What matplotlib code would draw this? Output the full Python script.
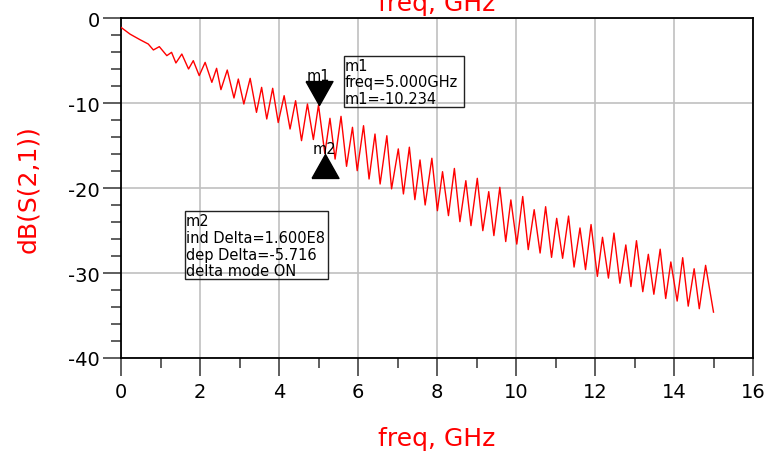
import matplotlib
matplotlib.use('Agg')
import matplotlib.pyplot as plt
from matplotlib.patches import Rectangle
from matplotlib.ticker import MultipleLocator
from matplotlib.transforms import ScaledTranslation

plt.rcParams.update({
    'font.family': 'DejaVu Sans',
    'font.size': 14,
    'axes.unicode_minus': False,
})

# ── Data (peaks / troughs of S21 ripple) ───────────────────────────────────
FREQ_GHZ = [0.00, 0.23, 0.48, 0.69, 0.82, 0.97, 1.16, 1.28, 1.39, 1.54,
            1.71, 1.83, 1.98, 2.13, 2.30, 2.42, 2.53, 2.69, 2.86, 2.97,
            3.11, 3.27, 3.43, 3.56, 3.69, 3.84, 3.98, 4.13, 4.28, 4.42,
            4.57, 4.72, 4.87, 5.00, 5.16, 5.29, 5.42, 5.57, 5.71, 5.86,
            5.98, 6.14, 6.28, 6.43, 6.56, 6.73, 6.85, 7.02, 7.15, 7.30,
            7.44, 7.57, 7.70, 7.87, 8.01, 8.14, 8.29, 8.44, 8.58, 8.73,
            8.86, 9.02, 9.16, 9.31, 9.44, 9.59, 9.74, 9.87, 10.02, 10.17,
            10.31, 10.46, 10.61, 10.75, 10.90, 11.03, 11.18, 11.33, 11.47, 11.62,
            11.76, 11.90, 12.06, 12.19, 12.34, 12.48, 12.63, 12.78, 12.91, 13.05,
            13.21, 13.35, 13.49, 13.65, 13.79, 13.92, 14.08, 14.22, 14.36, 14.51,
            14.64, 14.80, 15.00]
S21_DB = [-1.1, -1.9, -2.55, -3.06, -3.76, -3.37, -4.43, -4.04, -5.29, -4.24,
          -6.0, -5.02, -6.78, -5.22, -7.57, -5.92, -8.43, -6.12, -9.41, -7.18,
          -10.12, -7.10, -11.1, -8.16, -11.88, -8.27, -12.3, -9.14, -13.06, -9.73,
          -14.43, -10.12, -14.3, -10.234, -15.95, -11.8, -16.6, -11.57, -17.45, -12.86,
          -17.96, -12.67, -18.94, -13.65, -19.53, -13.85, -20.1, -15.4, -20.7, -15.2,
          -21.37, -16.7, -22.0, -16.5, -22.67, -18.08, -23.25, -17.7, -23.96, -19.14,
          -24.43, -18.86, -25.02, -20.43, -25.6, -19.92, -26.3, -21.4, -26.6, -21.0,
          -27.25, -22.55, -27.65, -22.2, -28.16, -23.57, -28.27, -23.3, -29.3, -24.7,
          -29.6, -24.3, -30.4, -25.8, -30.6, -25.3, -31.2, -26.7, -31.6, -26.2,
          -32.2, -27.8, -32.5, -27.2, -33.0, -28.7, -33.3, -28.2, -33.9, -29.5,
          -34.2, -29.1, -34.6]

# markers
M1_FREQ, M1_DB = 5.000, -10.234
M2_FREQ, M2_DB = 5.160, -15.95

M1_LINES = ['m1', 'freq=5.000GHz', 'm1=-10.234']
M2_LINES = ['m2', 'ind Delta=1.600E8', 'dep Delta=-5.716', 'delta mode ON']

W, H = 764, 460
fig = plt.figure(figsize=(W / 100, H / 100), dpi=100)

def fx(px):
    return px / W

def fy(py):
    return 1 - py / H

ax = fig.add_axes([fx(121), fy(359), (753 - 121) / W, (359 - 19) / H])

ax.plot(FREQ_GHZ, S21_DB, color='#ff0000', lw=1.0, zorder=3)

ax.set_xlim(0, 16)
ax.set_ylim(-40, 0)
ax.xaxis.set_major_locator(MultipleLocator(2))
ax.xaxis.set_minor_locator(MultipleLocator(1))
ax.yaxis.set_major_locator(MultipleLocator(10))
ax.yaxis.set_minor_locator(MultipleLocator(2))
ax.tick_params(which='major', direction='out', length=13, width=1.1,
               color='#333333', labelsize=14, pad=4)
ax.tick_params(which='minor', direction='out', length=7, width=1.1,
               color='#333333')
ax.tick_params(axis='y', which='major', length=13, pad=2)
ax.grid(True, which='major', color='#c0c0c0', lw=1.2, zorder=0)
for sp in ax.spines.values():
    sp.set_color('#000000')
    sp.set_linewidth(1.3)

ax.set_xlabel('freq, GHz', color='#ff0000', fontsize=18)
ax.set_ylabel('dB(S(2,1))', color='#ff0000', fontsize=18)
ax.xaxis.set_label_coords(0.5, -0.20)
ax.yaxis.set_label_coords(-0.128, 0.5)

# last x tick label sits against the right edge, nudge it in a bit
last = ax.xaxis.get_major_ticks()[-1].label1
last.set_transform(last.get_transform()
                   + ScaledTranslation(-4 / 72, 0, fig.dpi_scale_trans))

# clipped title remnant at the top
fig.text(fx(437), fy(11), 'freq, GHz', color='#ff0000', fontsize=18,
         ha='center', va='baseline')

# marker triangles with the tip on the data point
tri_down = [(-13.5, 24), (13.5, 24), (0, 0), (-13.5, 24)]
tri_up = [(-13.5, -24), (13.5, -24), (0, 0), (-13.5, -24)]
ax.plot([M1_FREQ], [M1_DB], marker=tri_down, ms=34.5, color='black',
        ls='none', zorder=5)
ax.plot([M2_FREQ], [M2_DB], marker=tri_up, ms=34.5, color='black',
        ls='none', zorder=5)
ax.annotate('m1', (M1_FREQ, M1_DB), xytext=(0, 18), textcoords='offset points',
            ha='center', va='baseline', fontsize=10.5, zorder=6)
ax.annotate('m2', (M2_FREQ, M2_DB), xytext=(0, 0.5), textcoords='offset points',
            ha='center', va='baseline', fontsize=10.5, zorder=6)

# readout boxes
def readout(lines, x0, y0, x1, y1, base0):
    fig.patches.append(Rectangle((fx(x0), fy(y1)), fx(x1 - x0), (y1 - y0) / H,
                                 transform=fig.transFigure, facecolor='none',
                                 edgecolor='#222222', lw=1.0, zorder=7))
    for i, line in enumerate(lines):
        fig.text(fx(x0 + 1), fy(base0 + 16.8 * i), line, fontsize=10.5,
                 ha='left', va='baseline', zorder=8)

readout(M1_LINES, 344, 57, 464, 108, 70.7)
readout(M2_LINES, 185, 212, 328, 280, 226)

fig.savefig('out.png', dpi=100)
